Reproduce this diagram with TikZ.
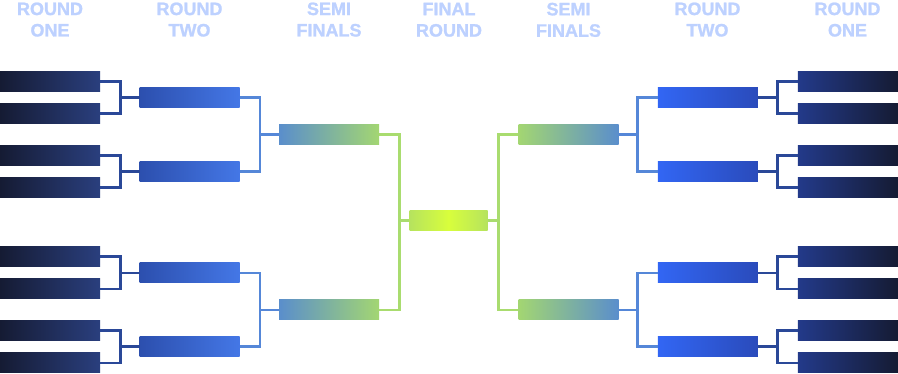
\documentclass[tikz,border=0pt]{standalone}
\usepackage{fontspec}
\setmainfont{Liberation Sans}
\newfontfamily\headfont{Liberation Sans Bold}[FakeBold=1.2]
\usepackage{xcolor}
\usetikzlibrary{positioning,calc}
\definecolor{headblue}{HTML}{BDD1FF}
\definecolor{onedark}{HTML}{151B33}
\definecolor{onelight}{HTML}{2A3F7E}
\definecolor{onelightr}{HTML}{233A8A}
\definecolor{twodark}{HTML}{2C4FAE}
\definecolor{twolight}{HTML}{4477E6}
\definecolor{twobright}{HTML}{3266F4}
\definecolor{twodeep}{HTML}{2A4BBB}
\definecolor{semiblue}{HTML}{5A8ECC}
\definecolor{semigreen}{HTML}{A3D672}
\definecolor{finedge}{HTML}{B6E35E}
\definecolor{finmid}{HTML}{D8FE3C}
\definecolor{linkdark}{HTML}{2A4898}
\definecolor{linkmid}{HTML}{5587D8}
\definecolor{linkgreen}{HTML}{A9DC6F}
\tikzset{
    header/.style={
        anchor=north, inner sep=0pt, text=headblue, align=center,
        font=\fontsize{18}{21.4}\selectfont\headfont
    },
    slot/.style={
        minimum width=100pt, minimum height=20pt, inner sep=0pt
    },
    leftone/.style={slot, left color=onedark, right color=onelight},
    rightone/.style={slot, left color=onelightr, right color=onedark},
    lefttwo/.style={slot, left color=twodark, right color=twolight},
    righttwo/.style={slot, left color=twobright, right color=twodeep},
    leftsemi/.style={slot, left color=semiblue, right color=semigreen},
    rightsemi/.style={slot, left color=semigreen, right color=semiblue},
    finalslot/.style={
        slot, minimum width=78pt,
        left color=finedge, right color=finedge, middle color=finmid
    },
    linkone/.style={draw=linkdark, line width=2.6pt},
    linktwo/.style={draw=linkmid, line width=2.6pt},
    linkthree/.style={draw=linkgreen, line width=2.6pt},
}
\begin{document}
\begin{tikzpicture}[x=1pt, y=-1pt]
    \useasboundingbox (0,0) rectangle (898,374);
    % column titles
    \node[header] (hlo) at (50,2.3) {ROUND\\ONE};
    \node[header] (hlt) at (189.5,2.3) {ROUND\\TWO};
    \node[header] (hls) at (329,2.3) {SEMI\\FINALS};
    \node[header] (hfin) at (449,2.6) {FINAL\\ROUND};
    \node[header] (hrs) at (568.5,2.6) {SEMI\\FINALS};
    \node[header] (hrt) at (707.5,2.3) {ROUND\\TWO};
    \node[header] (hro) at (847.5,2.3) {ROUND\\ONE};
    % left half
    \node[leftone] (lo1) at (50,81.5) {};
    \node[leftone] (lo2) at (50,113.7) {};
    \node[leftone] (lo3) at (50,155.5) {};
    \node[leftone] (lo4) at (50,187.8) {};
    \node[leftone] (lo5) at (50,256.7) {};
    \node[leftone] (lo6) at (50,289) {};
    \node[leftone] (lo7) at (50,330.5) {};
    \node[leftone] (lo8) at (50,363) {};
    \node[lefttwo] (lt1) at (189.7,97.6) {};
    \node[lefttwo] (lt2) at (189.7,171.7) {};
    \node[lefttwo] (lt3) at (189.7,272.9) {};
    \node[lefttwo] (lt4) at (189.7,346.8) {};
    \node[leftsemi] (ls1) at (329,134.7) {};
    \node[leftsemi] (ls2) at (329,310) {};
    % final
    \node[finalslot] (fin) at (448.5,220.5) {};
    % right half
    \node[rightsemi] (rs1) at (568.5,134.7) {};
    \node[rightsemi] (rs2) at (568.5,310) {};
    \node[righttwo] (rt1) at (707.8,97.6) {};
    \node[righttwo] (rt2) at (707.8,171.7) {};
    \node[righttwo] (rt3) at (707.8,272.9) {};
    \node[righttwo] (rt4) at (707.8,346.8) {};
    \node[rightone] (ro1) at (847.8,81.5) {};
    \node[rightone] (ro2) at (847.8,113.7) {};
    \node[rightone] (ro3) at (847.8,155.5) {};
    \node[rightone] (ro4) at (847.8,187.8) {};
    \node[rightone] (ro5) at (847.8,256.7) {};
    \node[rightone] (ro6) at (847.8,289) {};
    \node[rightone] (ro7) at (847.8,330.5) {};
    \node[rightone] (ro8) at (847.8,363) {};
    % brackets, left
    \draw[linkone] (lo1.east) -- +(20,0) |- (lo2.east);
    \draw[linkone] (lo3.east) -- +(20,0) |- (lo4.east);
    \draw[linkone] (lo5.east) -- +(20,0) |- (lo6.east);
    \draw[linkone] (lo7.east) -- +(20,0) |- (lo8.east);
    \draw[linkone] (lt1.west) -- +(-20,0);
    \draw[linkone] (lt2.west) -- +(-20,0);
    \draw[linkone] (lt3.west) -- +(-20,0);
    \draw[linkone] (lt4.west) -- +(-20,0);
    \draw[linktwo] (lt1.east) -- +(20,0) |- (lt2.east);
    \draw[linktwo] (lt3.east) -- +(20,0) |- (lt4.east);
    \draw[linktwo] (ls1.west) -- +(-20,0);
    \draw[linktwo] (ls2.west) -- +(-20,0);
    \draw[linkthree] (ls1.east) -- +(20,0) |- (ls2.east);
    \draw[linkthree] (fin.west) -- +(-10.5,0);
    % brackets, right
    \draw[linkone] (ro1.west) -- +(-20,0) |- (ro2.west);
    \draw[linkone] (ro3.west) -- +(-20,0) |- (ro4.west);
    \draw[linkone] (ro5.west) -- +(-20,0) |- (ro6.west);
    \draw[linkone] (ro7.west) -- +(-20,0) |- (ro8.west);
    \draw[linkone] (rt1.east) -- +(20,0);
    \draw[linkone] (rt2.east) -- +(20,0);
    \draw[linkone] (rt3.east) -- +(20,0);
    \draw[linkone] (rt4.east) -- +(20,0);
    \draw[linktwo] (rt1.west) -- +(-20,0) |- (rt2.west);
    \draw[linktwo] (rt3.west) -- +(-20,0) |- (rt4.west);
    \draw[linktwo] (rs1.east) -- +(20,0);
    \draw[linktwo] (rs2.east) -- +(20,0);
    \draw[linkthree] (rs1.west) -- +(-20,0) |- (rs2.west);
    \draw[linkthree] (fin.east) -- +(10.5,0);
\end{tikzpicture}
\end{document}
